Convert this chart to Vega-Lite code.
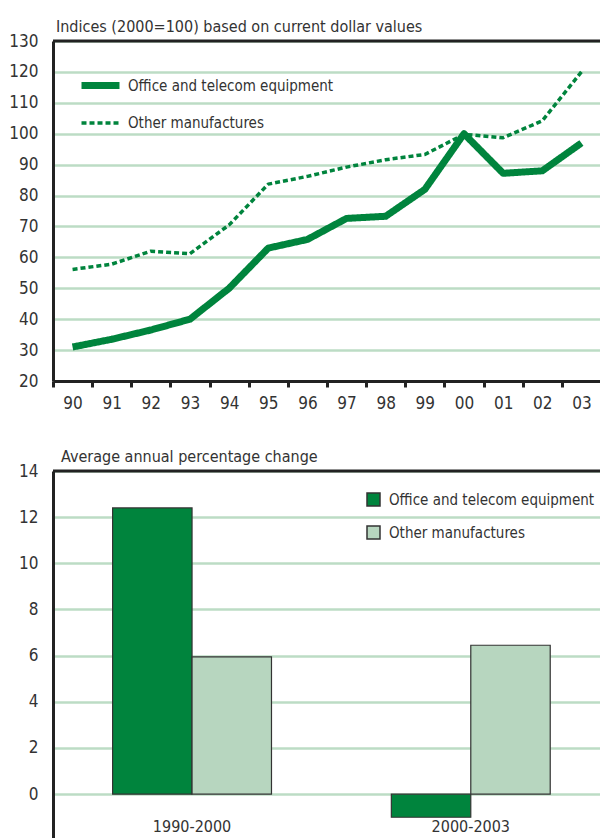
{
  "$schema": "https://vega.github.io/schema/vega-lite/v6.json",
  "padding": {"left": 8, "top": 19, "right": 0, "bottom": 0},
  "autosize": {"type": "pad"},
  "spacing": 38,
  "resolve": {
    "scale": {"fill": "independent", "strokeDash": "independent", "strokeWidth": "independent"},
    "legend": {"fill": "independent", "strokeDash": "independent", "strokeWidth": "independent"}
  },
  "config": {
    "font": "DejaVu Sans Condensed, sans-serif",
    "view": {"stroke": null},
    "axis": {
      "labelFont": "DejaVu Sans Condensed, sans-serif",
      "labelFontSize": 17,
      "labelColor": "#333333",
      "domainColor": "#222222",
      "domainWidth": 3,
      "gridColor": "#bcdcc5",
      "gridWidth": 2.5,
      "gridOpacity": 1,
      "labelOverlap": false,
      "labelFlush": false
    },
    "legend": {
      "labelFont": "DejaVu Sans Condensed, sans-serif",
      "labelFontSize": 15,
      "labelColor": "#333333",
      "labelLimit": 400
    },
    "title": {
      "font": "DejaVu Sans Condensed, sans-serif",
      "fontSize": 16,
      "fontWeight": "normal",
      "color": "#333333",
      "anchor": "start",
      "frame": "group"
    }
  },
  "datasets": {
    "indices": [
      {"year": "90", "series": "Office and telecom equipment", "value": 31},
      {"year": "91", "series": "Office and telecom equipment", "value": 33.5},
      {"year": "92", "series": "Office and telecom equipment", "value": 36.5},
      {"year": "93", "series": "Office and telecom equipment", "value": 40},
      {"year": "94", "series": "Office and telecom equipment", "value": 50},
      {"year": "95", "series": "Office and telecom equipment", "value": 63},
      {"year": "96", "series": "Office and telecom equipment", "value": 65.8},
      {"year": "97", "series": "Office and telecom equipment", "value": 72.6},
      {"year": "98", "series": "Office and telecom equipment", "value": 73.3},
      {"year": "99", "series": "Office and telecom equipment", "value": 82},
      {"year": "00", "series": "Office and telecom equipment", "value": 100},
      {"year": "01", "series": "Office and telecom equipment", "value": 87.2},
      {"year": "02", "series": "Office and telecom equipment", "value": 88},
      {"year": "03", "series": "Office and telecom equipment", "value": 97},
      {"year": "90", "series": "Other manufactures", "value": 56.1},
      {"year": "91", "series": "Other manufactures", "value": 57.8},
      {"year": "92", "series": "Other manufactures", "value": 62},
      {"year": "93", "series": "Other manufactures", "value": 61.2},
      {"year": "94", "series": "Other manufactures", "value": 70.5},
      {"year": "95", "series": "Other manufactures", "value": 83.7},
      {"year": "96", "series": "Other manufactures", "value": 86.2},
      {"year": "97", "series": "Other manufactures", "value": 89.2},
      {"year": "98", "series": "Other manufactures", "value": 91.6},
      {"year": "99", "series": "Other manufactures", "value": 93.3},
      {"year": "00", "series": "Other manufactures", "value": 99.8},
      {"year": "01", "series": "Other manufactures", "value": 98.7},
      {"year": "02", "series": "Other manufactures", "value": 104.2},
      {"year": "03", "series": "Other manufactures", "value": 120}
    ],
    "growth": [
      {"period": "1990-2000", "series": "Office and telecom equipment", "value": 12.4},
      {"period": "1990-2000", "series": "Other manufactures", "value": 5.95},
      {"period": "2000-2003", "series": "Office and telecom equipment", "value": -1.0},
      {"period": "2000-2003", "series": "Other manufactures", "value": 6.45}
    ],
    "topEdge": [{"edge": "top", "indexTop": 130, "changeTop": 14}]
  },
  "vconcat": [
    {
      "width": 548,
      "height": 340,
      "title": {"text": "Indices (2000=100) based on current dollar values", "dx": 3, "offset": -3},
      "layer": [
        {
          "data": {"name": "indices"},
          "mark": {"type": "line", "color": "#00843d", "strokeJoin": "round"},
          "encoding": {
            "x": {
              "field": "year", "type": "ordinal", "sort": null,
              "scale": {"paddingInner": 0, "paddingOuter": 0},
              "axis": {"title": null, "labelAngle": 0, "grid": false, "tickBand": "extent", "ticks": true, "tickSize": 6, "tickWidth": 3, "tickColor": "#222222", "labelPadding": 8}
            },
            "y": {
              "field": "value", "type": "quantitative",
              "scale": {"domain": [20, 130], "nice": false},
              "axis": {"title": null, "values": [20, 30, 40, 50, 60, 70, 80, 90, 100, 110, 120, 130], "grid": true, "ticks": false, "labelPadding": 15, "labelOverlap": false}
            },
            "strokeDash": {
              "field": "series", "type": "nominal",
              "scale": {"domain": ["Office and telecom equipment", "Other manufactures"], "range": [[1, 0], [5, 3]]},
              "legend": {"title": null, "orient": "none", "legendX": 25, "legendY": 22, "symbolType": "stroke", "symbolSize": 1444, "symbolStrokeColor": "#00843d", "labelOffset": 5, "rowPadding": 2, "padding": 0}
            },
            "strokeWidth": {
              "field": "series", "type": "nominal",
              "scale": {"type": "ordinal", "domain": ["Office and telecom equipment", "Other manufactures"], "range": [7, 3.5]},
              "legend": {"title": null, "orient": "none", "legendX": 25, "legendY": 22, "symbolType": "stroke", "symbolSize": 1444, "symbolStrokeColor": "#00843d", "labelOffset": 5, "rowPadding": 2, "padding": 0}
            }
          }
        },
        {
          "data": {"name": "topEdge"},
          "mark": {"type": "rule", "color": "#222222", "strokeWidth": 3},
          "encoding": {
            "y": {
              "field": "indexTop", "type": "quantitative",
              "axis": {"title": null, "values": [20, 30, 40, 50, 60, 70, 80, 90, 100, 110, 120, 130], "grid": true, "ticks": false, "labelPadding": 15, "labelOverlap": false}
            }
          }
        }
      ]
    },
    {
      "width": 548,
      "height": 367,
      "title": {"text": "Average annual percentage change", "dx": 8, "offset": -3},
      "layer": [
        {
          "data": {"name": "growth"},
          "mark": {"type": "bar", "stroke": "#333333", "strokeWidth": 1.2},
          "encoding": {
            "x": {
              "field": "period", "type": "nominal",
              "scale": {"paddingInner": 0.43, "paddingOuter": 0.198, "align": 0.54},
              "axis": {"title": null, "labelAngle": 0, "labelFontSize": 16, "domain": false, "ticks": false, "grid": false, "offset": -20, "labelPadding": 0}
            },
            "xOffset": {
              "field": "series", "type": "nominal",
              "sort": ["Office and telecom equipment", "Other manufactures"],
              "scale": {"paddingInner": 0, "paddingOuter": 0}
            },
            "y": {
              "field": "value", "type": "quantitative",
              "scale": {"domain": [-1.9, 14], "nice": false},
              "axis": {"title": null, "values": [0, 2, 4, 6, 8, 10, 12, 14], "grid": true, "ticks": false, "labelPadding": 15, "labelOverlap": false}
            },
            "fill": {
              "field": "series", "type": "nominal",
              "scale": {"domain": ["Office and telecom equipment", "Other manufactures"], "range": ["#00843d", "#b7d6bf"]},
              "legend": {"title": null, "orient": "none", "legendX": 313, "legendY": 21, "symbolType": "square", "symbolSize": 169, "symbolStrokeColor": "#333333", "symbolStrokeWidth": 1.5, "labelOffset": 8, "rowPadding": 14, "padding": 0}
            }
          }
        },
        {
          "data": {"name": "topEdge"},
          "mark": {"type": "rule", "color": "#222222", "strokeWidth": 3},
          "encoding": {
            "y": {
              "field": "changeTop", "type": "quantitative",
              "axis": {"title": null, "values": [0, 2, 4, 6, 8, 10, 12, 14], "grid": true, "ticks": false, "labelPadding": 15, "labelOverlap": false}
            }
          }
        }
      ]
    }
  ]
}
